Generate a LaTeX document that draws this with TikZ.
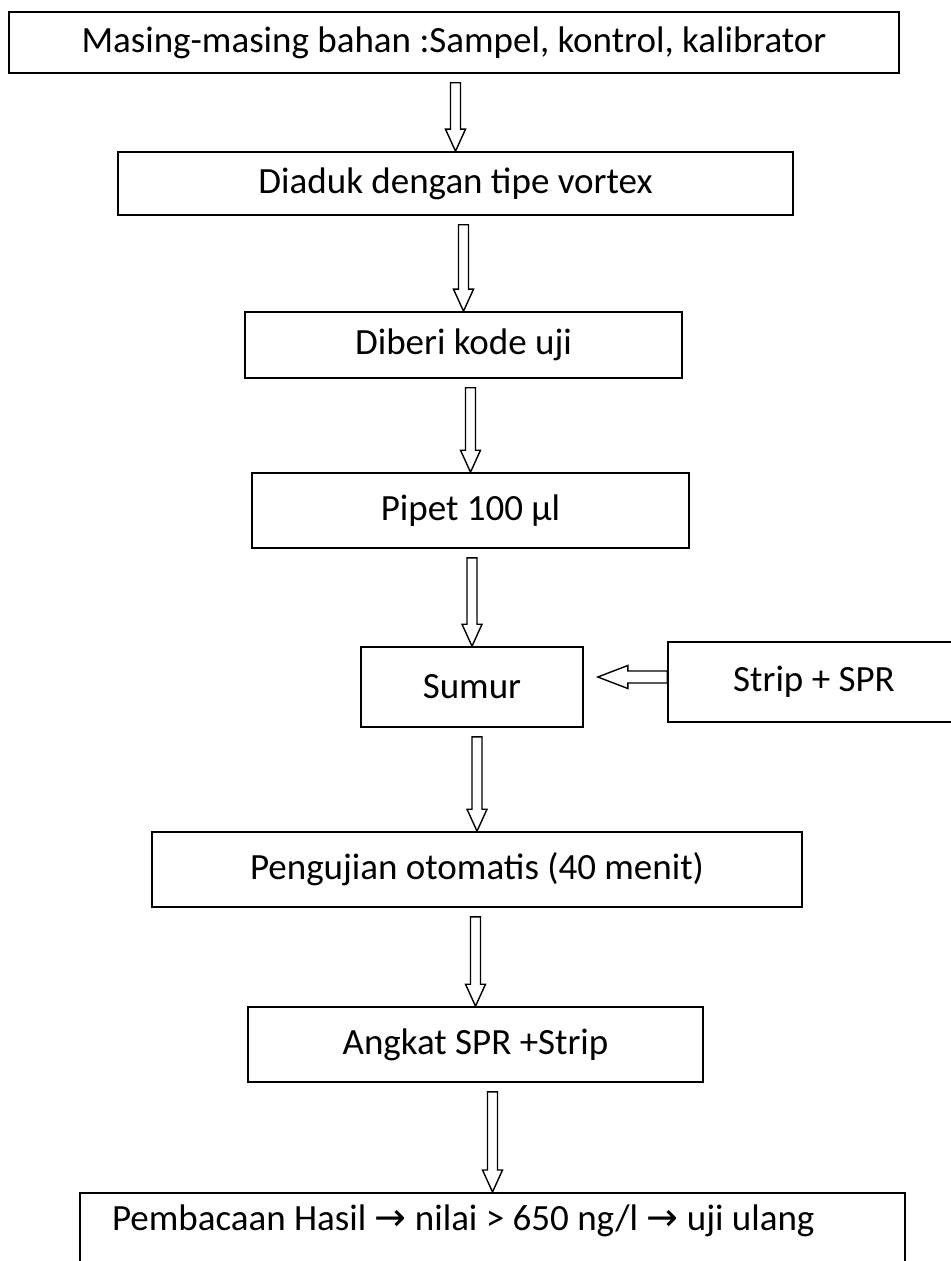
\documentclass[tikz,border=0pt]{standalone}
\usepackage{fontspec}
\setmainfont{Carlito}
\newfontfamily\arrowfont{DejaVu Sans}
\usetikzlibrary{calc}

\tikzset{
  stepbox/.style={draw, line width=0.8pt, inner sep=0pt, font=\fontsize{18.5}{22}\selectfont},
  flowarrow/.style={draw, line width=0.7pt, fill=white, line join=miter}
}

% hollow arrow pointing down, from box #1 to box #2
\newcommand{\downflow}[2]{%
  \draw[flowarrow] ($(#2.north |- #1.south)+(-2.5pt,-4.5pt)$) -- ($(#2.north)+(-2.5pt,11pt)$) -- ++(-2.5pt,0pt) -- (#2.north) -- ++(5pt,11pt) -- ++(-2.5pt,0pt) -- ($(#2.north |- #1.south)+(2.5pt,-4.5pt)$) -- cycle;}
% hollow arrow pointing left, from box #1 to box #2
\newcommand{\leftflow}[2]{%
  \draw[flowarrow] ($(#1.west)+(0pt,5.5pt)$) -- ($(#2.east |- #1.west)+(22pt,5.5pt)$) -- ++(0pt,2.75pt) -- ($(#2.east |- #1.west)+(7pt,2.5pt)$) -- ++(15pt,-5.75pt) -- ++(0pt,2.75pt) -- ($(#1.west)+(0pt,-0.5pt)$) -- cycle;}

\begin{document}
\begin{tikzpicture}[x=0.5pt,y=-0.5pt]
  \useasboundingbox (0,0) rectangle (951,1261);

  % boxes
  \node[stepbox, minimum width=445pt, minimum height=30.5pt] (masing) at (454,42.5) {Masing-masing bahan :Sampel, kontrol, kalibrator};
  \node[stepbox, minimum width=337.5pt, minimum height=31.5pt] (diaduk) at (455.5,183.5) {Diaduk dengan tipe vortex};
  \node[stepbox, minimum width=218.5pt, minimum height=33pt] (kode) at (463.5,345) {Diberi kode uji};
  \node[stepbox, minimum width=218.5pt, minimum height=37.5pt] (pipet) at (470.5,510.5) {Pipet 100 µl};
  \node[stepbox, minimum width=111pt, minimum height=40pt] (sumur) at (472,687) {Sumur};
  \node[stepbox, minimum width=146pt, minimum height=40pt] (strip) at (814,682) {Strip + SPR};
  \node[stepbox, minimum width=325pt, minimum height=37.5pt] (uji) at (477,869.5) {Pengujian otomatis (40 menit)};
  \node[stepbox, minimum width=227.5pt, minimum height=37.5pt] (angkat) at (475.5,1044.5) {Angkat SPR +Strip};
  \node[stepbox, anchor=north, minimum width=412.5pt, text width=380.5pt, inner xsep=16pt, inner ysep=7pt, align=flush left,
        text height=12pt, text depth=35pt] (baca) at (492.5,1192)
        {Pembacaan Hasil {\arrowfont\fontsize{19}{22}\selectfont →} nilai > 650 ng/l {\arrowfont\fontsize{19}{22}\selectfont →} uji ulang};

  % arrows
  \downflow{masing}{diaduk}
  \downflow{diaduk}{kode}
  \downflow{kode}{pipet}
  \downflow{pipet}{sumur}
  \leftflow{strip}{sumur}
  \downflow{sumur}{uji}
  \downflow{uji}{angkat}
  \downflow{angkat}{baca}
\end{tikzpicture}
\end{document}
